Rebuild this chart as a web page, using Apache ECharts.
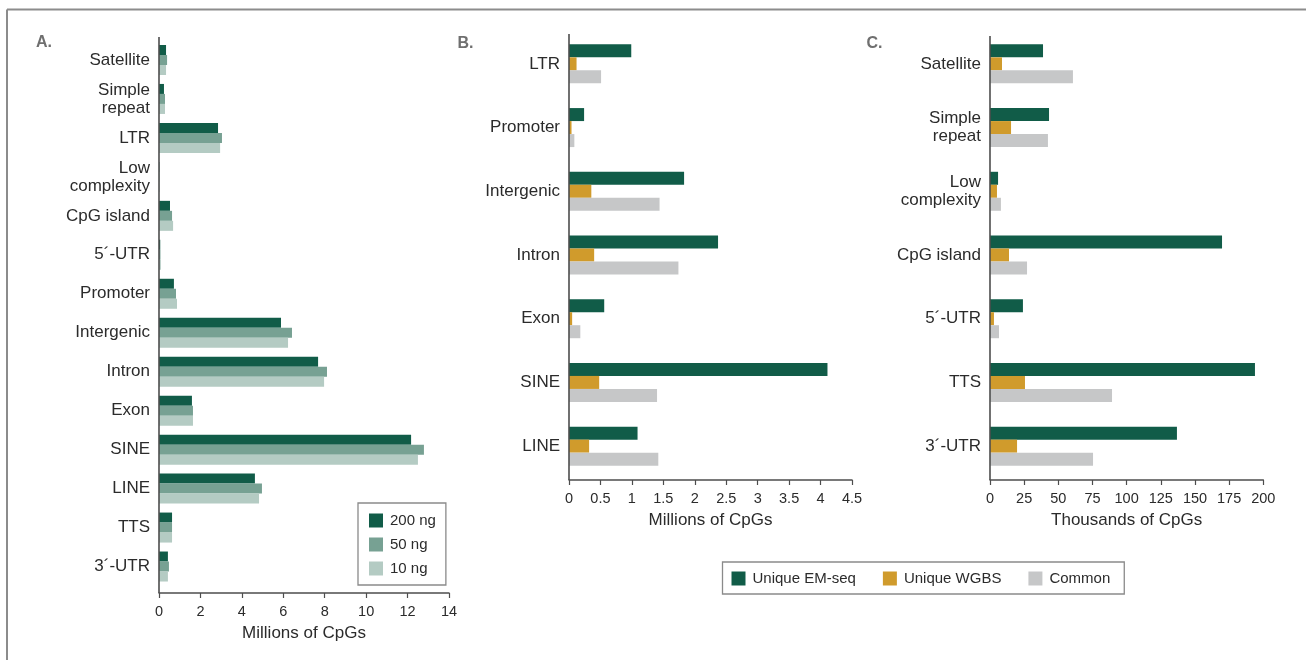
<!DOCTYPE html>
<html>
<head>
<meta charset="utf-8">
<script src="https://cdn.jsdelivr.net/npm/echarts@6/dist/echarts.min.js"></script>
<style>
  html, body { margin: 0; padding: 0; background: #fff; }
  #chart { width: 1306px; height: 660px; }
</style>
</head>
<body>
<div id="chart"></div>
<script>
// Panel A: CpGs per genomic feature at three DNA inputs (millions)
const catsA = ['Satellite', 'Simple\nrepeat', 'LTR', 'Low\ncomplexity', 'CpG island', '5´-UTR', 'Promoter',
               'Intergenic', 'Intron', 'Exon', 'SINE', 'LINE', 'TTS', '3´-UTR'];
const ng200 = [0.34, 0.24, 2.85, 0.02, 0.53, 0.06, 0.72, 5.89, 7.68, 1.59, 12.17, 4.63, 0.63, 0.43];
const ng50  = [0.39, 0.29, 3.04, 0.02, 0.63, 0.07, 0.82, 6.42, 8.11, 1.64, 12.79, 4.97, 0.63, 0.48];
const ng10  = [0.34, 0.29, 2.95, 0.03, 0.68, 0.09, 0.87, 6.23, 7.97, 1.64, 12.50, 4.83, 0.63, 0.43];

// Panel B: unique / common CpGs, EM-seq vs WGBS (millions)
const catsB = ['LTR', 'Promoter', 'Intergenic', 'Intron', 'Exon', 'SINE', 'LINE'];
const emB   = [0.99, 0.24, 1.83, 2.37, 0.56, 4.11, 1.09];
const wgB   = [0.12, 0.04, 0.355, 0.40, 0.05, 0.48, 0.32];
const comB  = [0.51, 0.085, 1.44, 1.74, 0.18, 1.40, 1.42];

// Panel C: unique / common CpGs, EM-seq vs WGBS (thousands)
const catsC = ['Satellite', 'Simple\nrepeat', 'Low\ncomplexity', 'CpG island', '5´-UTR', 'TTS', '3´-UTR'];
const emC   = [38.8, 43.2, 5.9, 169.8, 24.1, 193.9, 136.8];
const wgC   = [8.8, 15.4, 5.1, 13.9, 2.9, 25.6, 19.8];
const comC  = [60.7, 42.4, 8.0, 27.1, 6.6, 89.3, 75.4];

const FONT = "'Liberation Sans', Arial, Helvetica, sans-serif";
const TXT = '#2b2b2b';
const AXIS = '#4d4d4d';
const C200 = '#115c48', C50 = '#77a193', C10 = '#b4cbc3';
const CEM = '#115c48', CWG = '#d09b2c', CCOM = '#c6c7c8';

function xAxisCfg(gridIndex, max, interval, name, offset) {
  return {
    type: 'value', gridIndex, min: 0, max, interval, offset,
    name, nameLocation: 'middle', nameGap: 32,
    nameTextStyle: { fontFamily: FONT, fontSize: 17, color: TXT },
    axisLine: { show: true, lineStyle: { color: AXIS, width: 1.5 } },
    axisTick: { show: true, length: 5, lineStyle: { color: AXIS, width: 1.2 } },
    axisLabel: { fontFamily: FONT, fontSize: 14.5, color: TXT, margin: 11 },
    splitLine: { show: false }
  };
}
function yAxisCfg(gridIndex, data) {
  return {
    type: 'category', gridIndex, data, inverse: true,
    axisLine: { show: false }, axisTick: { show: false },
    axisLabel: { fontFamily: FONT, fontSize: 17, lineHeight: 18, color: TXT, margin: 9, align: 'right' }
  };
}
function bar(name, xi, data, color, w) {
  return {
    type: 'bar', name, xAxisIndex: xi, yAxisIndex: xi, data,
    barWidth: w, barGap: '0%', itemStyle: { color }, silent: true
  };
}
function vline(x, y1, y2) {
  return { type: 'line', shape: { x1: x, y1, x2: x, y2 }, style: { stroke: AXIS, lineWidth: 1.6 }, z: 10 };
}
function panelLabel(text, x, y) {
  return { type: 'text', left: x, top: y,
    style: { text, fontFamily: FONT, fontSize: 16, fontWeight: 'bold', fill: '#6f6f6f' } };
}

const chart = echarts.init(document.getElementById('chart'), null, { renderer: 'canvas' });
chart.setOption({
  animation: false,
  backgroundColor: '#fff',
  grid: [
    { left: 159, top: 40.5, width: 290, height: 545.5 },
    { left: 569, top: 32, width: 283, height: 446 },
    { left: 990, top: 32, width: 273.3, height: 446 }
  ],
  xAxis: [
    xAxisCfg(0, 14, 2, 'Millions of CpGs', 7),
    xAxisCfg(1, 4.5, 0.5, 'Millions of CpGs', 2),
    xAxisCfg(2, 200, 25, 'Thousands of CpGs', 2)
  ],
  yAxis: [yAxisCfg(0, catsA), yAxisCfg(1, catsB), yAxisCfg(2, catsC)],
  legend: [
    {
      data: ['200 ng', '50 ng', '10 ng'], orient: 'vertical',
      left: 358, top: 503, width: 91,
      padding: [10, 10, 9, 11], itemGap: 9, itemWidth: 14, itemHeight: 14,
      borderColor: '#8a8a8a', borderWidth: 1.3,
      icon: 'rect', selectedMode: false,
      textStyle: { fontFamily: FONT, fontSize: 15, color: TXT, padding: [0, 0, 0, 2] }
    },
    {
      data: ['Unique EM-seq', 'Unique WGBS', 'Common'], orient: 'horizontal',
      left: 722.5, top: 562, width: 400,
      padding: [9, 14, 8, 9], itemGap: 27, itemWidth: 14, itemHeight: 14,
      borderColor: '#8a8a8a', borderWidth: 1.3,
      icon: 'rect', selectedMode: false,
      textStyle: { fontFamily: FONT, fontSize: 15, color: TXT, padding: [0, 0, 0, 2] }
    }
  ],
  series: [
    bar('200 ng', 0, ng200, C200, 10),
    bar('50 ng', 0, ng50, C50, 10),
    bar('10 ng', 0, ng10, C10, 10),
    bar('Unique EM-seq', 1, emB, CEM, 13),
    bar('Unique WGBS', 1, wgB, CWG, 13),
    bar('Common', 1, comB, CCOM, 13),
    bar('Unique EM-seq', 2, emC, CEM, 13),
    bar('Unique WGBS', 2, wgC, CWG, 13),
    bar('Common', 2, comC, CCOM, 13)
  ],
  graphic: [
    // outer frame (top and left edges)
    { type: 'line', shape: { x1: 7, y1: 9.5, x2: 1306, y2: 9.5 }, style: { stroke: '#8c8c8c', lineWidth: 2 } },
    { type: 'line', shape: { x1: 7, y1: 9.5, x2: 7, y2: 660 }, style: { stroke: '#8c8c8c', lineWidth: 2 } },
    // vertical axis lines
    vline(159, 37, 593),
    vline(569, 34, 480),
    vline(990, 36, 480),
    panelLabel('A.', 36, 35),
    panelLabel('B.', 457.5, 35.5),
    panelLabel('C.', 866.5, 36)
  ]
});
</script>
</body>
</html>
